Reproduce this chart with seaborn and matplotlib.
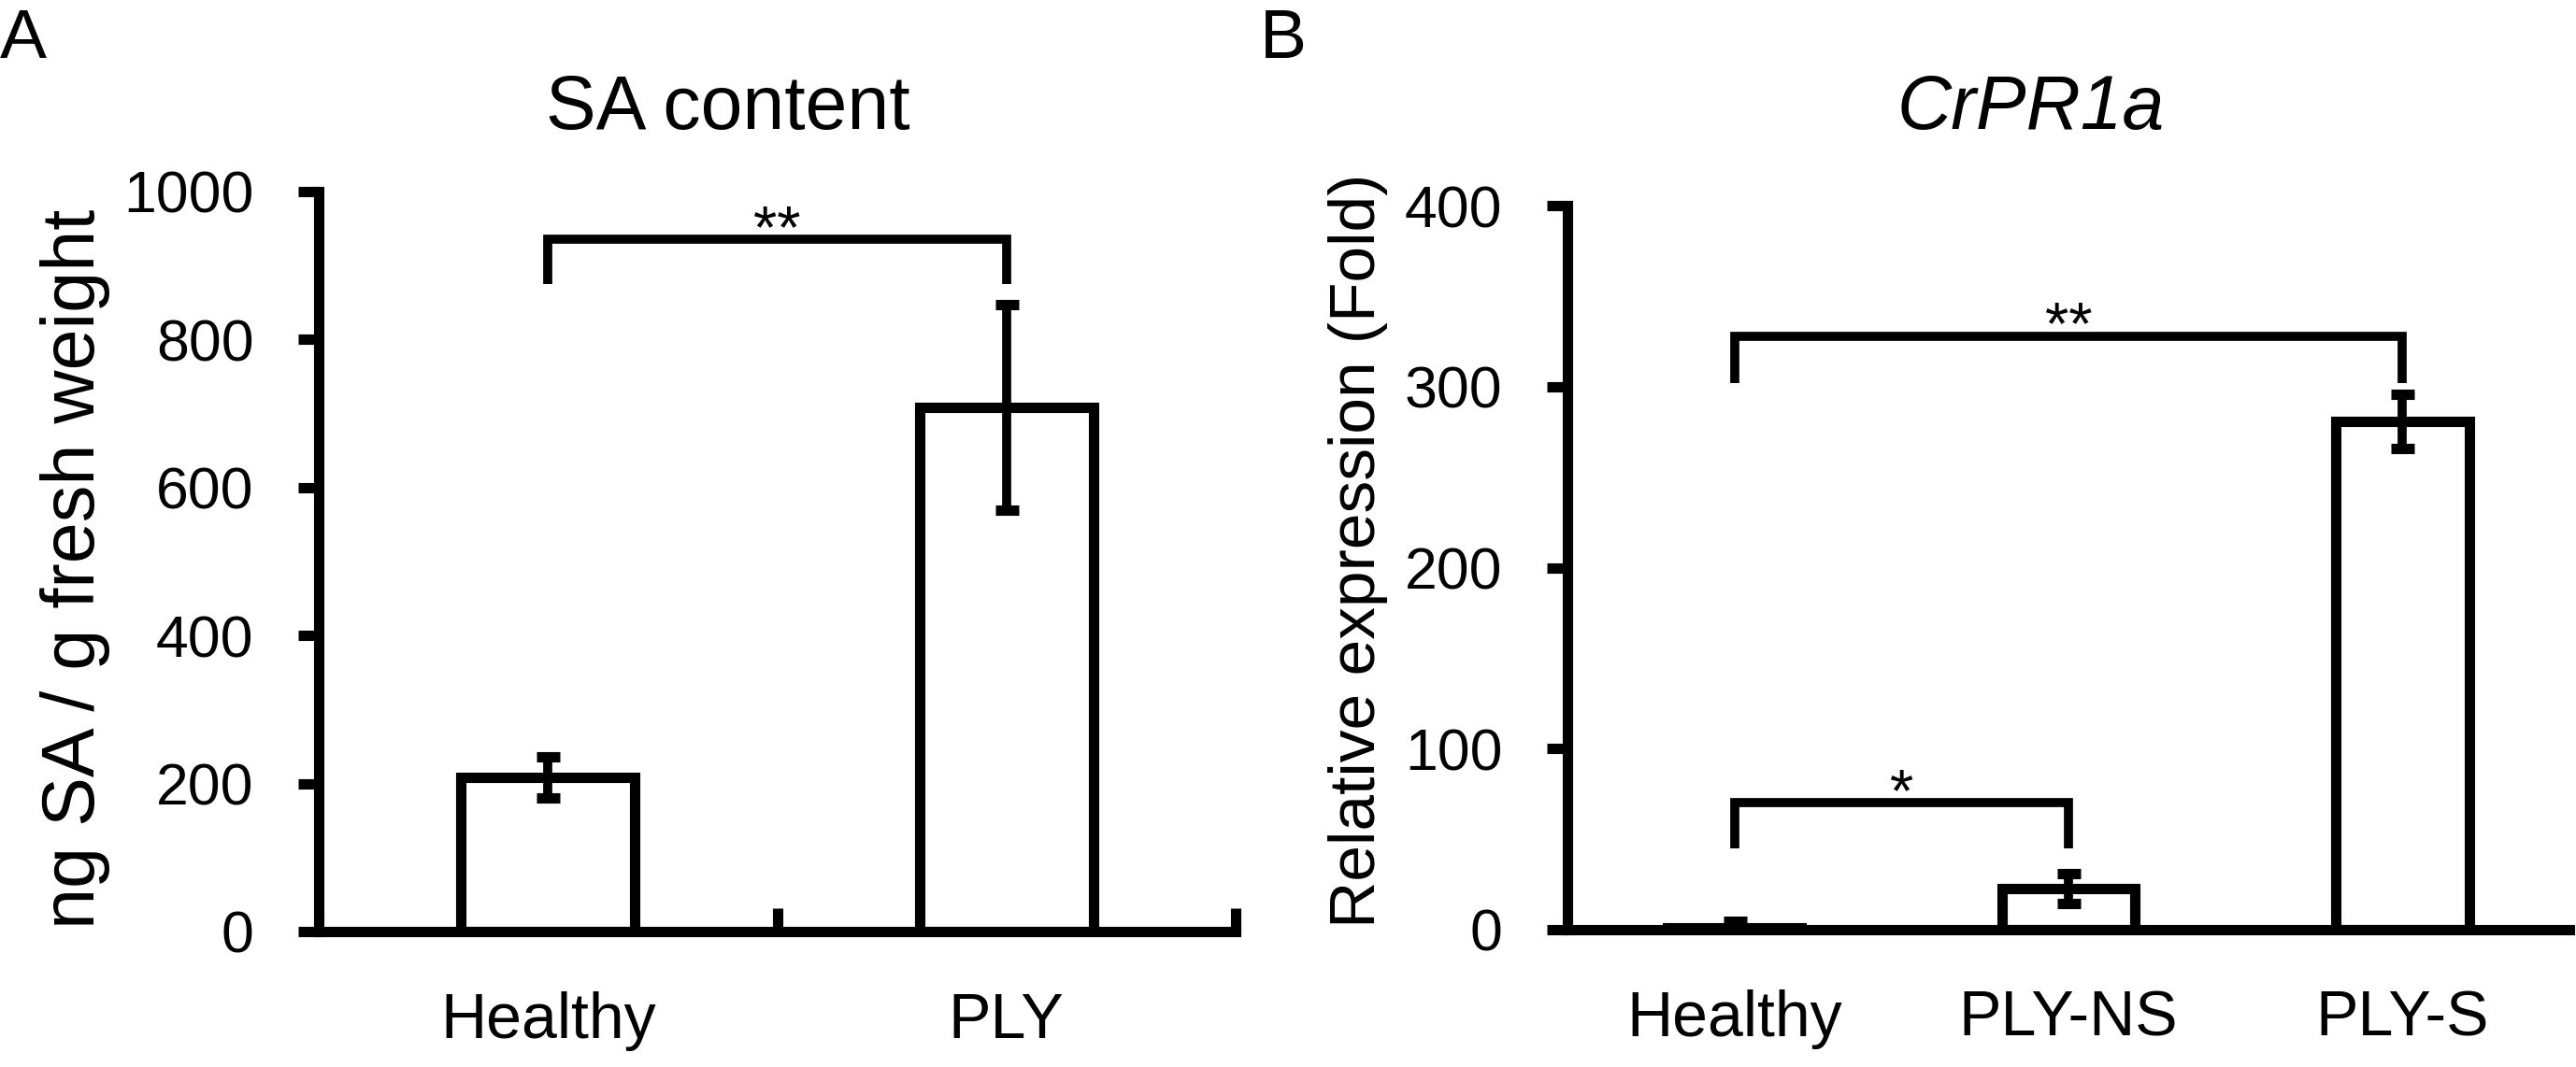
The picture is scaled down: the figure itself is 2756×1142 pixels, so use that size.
import matplotlib
matplotlib.use('Agg')
import matplotlib.pyplot as plt
import matplotlib.transforms as mtransforms
from matplotlib.ticker import FixedLocator
import seaborn as sns
import numpy as np

# Panel A: SA content
sa_groups = ['Healthy', 'PLY']
sa_mean = [208, 708]
sa_sd = [28, 139]

# Panel B: CrPR1a relative expression
pr_groups = ['Healthy', 'PLY-NS', 'PLY-S']
pr_mean = [1.0, 22.7, 281]
pr_sd = [3.5, 8.5, 15]

# significance brackets: left group, right group, bracket height, leg end, mark
sa_sig = [(0, 1, 935, 875, '**')]
pr_sig = [(0, 2, 328, 302, '**'), (0, 1, 70, 45, '*')]

sns.set_style('white')
plt.rcParams['font.family'] = ['Liberation Sans', 'DejaVu Sans']
plt.rcParams.update({'text.color': 'black', 'axes.labelcolor': 'black',
                     'xtick.color': 'black', 'ytick.color': 'black',
                     'axes.edgecolor': 'black'})

W, H = 2756, 1142
fig = plt.figure(figsize=(W / 100, H / 100), dpi=100)


def px_axes(left, right, top, bottom):
    return fig.add_axes([left / W, (H - bottom) / H, (right - left) / W, (bottom - top) / H])


def draw_panel(ax, groups, means, sds, ymax, step, width, sig):
    sns.barplot(x=groups, y=means, color='white', edgecolor='black', linewidth=8,
                width=width, saturation=1, ax=ax)
    ax.errorbar(np.arange(len(groups)), means, yerr=sds, fmt='none', ecolor='black',
                elinewidth=7, capsize=9, capthick=8, zorder=3)
    ax.set_xlim(-0.5, len(groups) - 0.5)
    ax.set_ylim(0, ymax)
    ax.set_yticks(np.arange(0, ymax + 1, step))
    ax.set_xlabel('')
    sns.despine(ax=ax)
    for side in ['left', 'bottom']:
        ax.spines[side].set_linewidth(8)
        ax.spines[side].set_color('black')
    ax.tick_params(axis='y', direction='out', length=16, width=8, labelsize=45, pad=34,
                   color='black', labelcolor='black', left=True)
    ax.tick_params(axis='x', length=0, labelsize=49, pad=46, labelcolor='black')
    star_tr = mtransforms.offset_copy(ax.transData, fig=fig, y=-6.5, units='points')
    for l, r, top, leg, mark in sig:
        ax.plot([l, l, r, r], [leg, top, top, leg], color='black', lw=7,
                solid_joinstyle='miter', solid_capstyle='butt', clip_on=False)
        ax.text((l + r) / 2, top, mark, ha='center', va='baseline', fontsize=47,
                color='black', transform=star_tr)


# Panel A
ax_a = px_axes(341, 1322, 205, 997)
draw_panel(ax_a, sa_groups, sa_mean, sa_sd, 1000, 200, 0.38, sa_sig)
ax_a.xaxis.set_minor_locator(FixedLocator([0.5, 1.5]))
ax_a.tick_params(axis='x', which='minor', direction='in', length=18, width=8,
                 bottom=True, color='black')
ax_a.set_title('SA content', fontsize=58, x=0.4465, y=1.0846, pad=0, color='black')
ax_a.set_ylabel('ng SA / g fresh weight', fontsize=57, color='black')
ax_a.yaxis.set_label_coords(-0.266, 0.49)
ax_a.yaxis.label.set_va('center')

# Panel B
ax_b = px_axes(1677, 2749, 220, 995)
draw_panel(ax_b, pr_groups, pr_mean, pr_sd, 400, 100, 0.40, pr_sig)
ax_b.set_title('CrPR1a', fontsize=58, fontstyle='italic', x=0.4627, y=1.1058, pad=0,
               color='black')
ax_b.set_ylabel('Relative expression (Fold)', fontsize=50, color='black')
ax_b.yaxis.set_label_coords(-0.209, 0.523)
ax_b.yaxis.label.set_va('center')

fig.text(0.0, 1 - 62 / H, 'A', fontsize=54, ha='left', va='baseline', color='black')
fig.text(1348 / W, 1 - 62 / H, 'B', fontsize=54, ha='left', va='baseline', color='black')

fig.savefig('out.png', dpi=100, facecolor='white')
